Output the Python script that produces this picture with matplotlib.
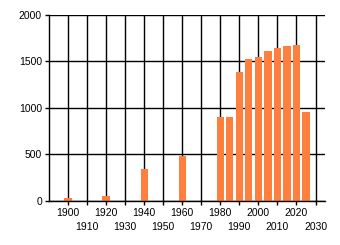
import numpy as np
import matplotlib
matplotlib.use("Agg")
import matplotlib.pyplot as plt

plt.rcParams['font.family'] = ['Liberation Sans', 'DejaVu Sans']

years = [1900, 1920, 1940, 1960, 1980, 1985, 1990, 1995, 2000, 2005, 2010, 2015, 2020, 2025]
values = [35, 57, 344, 484, 903, 903, 1390, 1527, 1548, 1613, 1645, 1667, 1677, 957]

major_ticks = list(range(1900, 2021, 20))
minor_ticks = list(range(1910, 2031, 20))
y_ticks = [0, 500, 1000, 1500, 2000]

fig = plt.figure(figsize=(3.4, 2.45), dpi=100)
ax = fig.add_axes([0.144, 0.18, 0.812, 0.759])

ax.bar(years, values, width=3.8, color='#FF7F3F', zorder=3)

# grid at every decade and every 500
for x in range(1900, 2031, 10):
	ax.axvline(x, color='black', lw=1, zorder=1)
for y in y_ticks:
	ax.axhline(y, color='black', lw=1, zorder=1)

ax.set_xlim(1890, 2035)
ax.set_ylim(0, 2000)

ax.set_xticks(major_ticks)
ax.set_xticks(minor_ticks, minor=True)
ax.set_xticklabels([str(t) for t in major_ticks])
ax.set_xticklabels([str(t) for t in minor_ticks], minor=True)
ax.set_yticks(y_ticks)

ax.tick_params(axis='x', which='major', length=3, pad=2, labelsize=7.5, width=1)
ax.tick_params(axis='x', which='minor', length=3, pad=12.5, labelsize=7.5, width=1)
ax.tick_params(axis='y', length=3, pad=2, labelsize=7.5, width=1)

for s in ['top', 'right']:
	ax.spines[s].set_visible(False)
for s in ['left', 'bottom']:
	ax.spines[s].set_linewidth(1)
	ax.spines[s].set_zorder(4)

fig.savefig('out.png', dpi=100)
